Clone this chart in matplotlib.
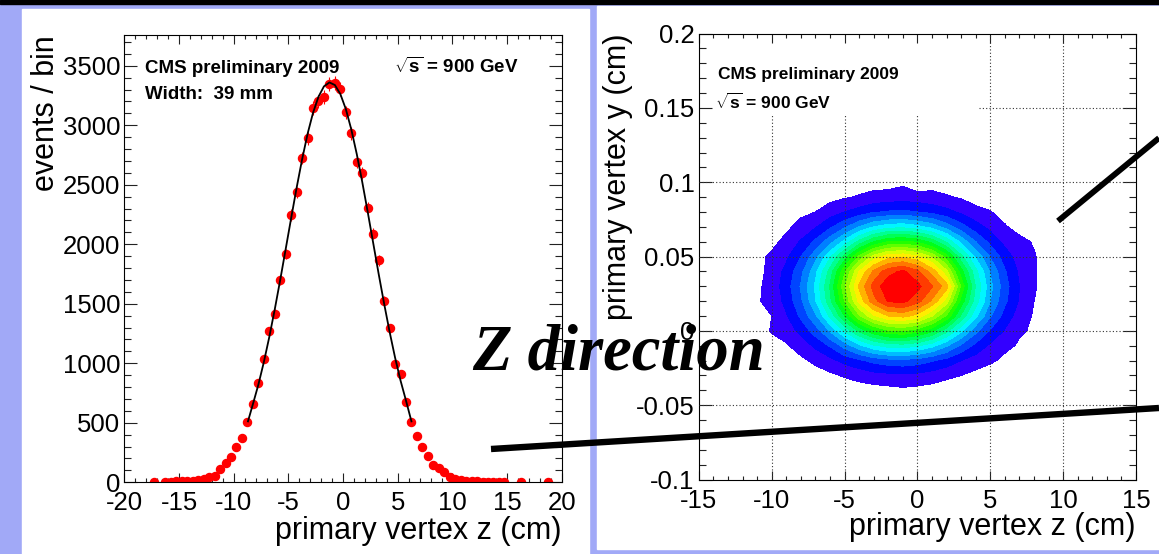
# Beam spot plots: primary vertex z distribution and y-z contour map

import colorsys
import matplotlib
matplotlib.use('Agg')
import matplotlib.pyplot as plt
from matplotlib.lines import Line2D
from matplotlib.patches import Rectangle
from matplotlib.ticker import MultipleLocator, FormatStrFormatter
import numpy as np

plt.rcParams['font.family'] = ['Liberation Sans', 'DejaVu Sans']
plt.rcParams['axes.unicode_minus'] = False
plt.rcParams['mathtext.fontset'] = 'custom'
plt.rcParams['mathtext.rm'] = 'Liberation Sans'
plt.rcParams['mathtext.bf'] = 'Liberation Sans:bold'

# ---- left panel: vertex z histogram (bin centres, entries) ----
hist_z = [-17.25, -16.25, -15.75, -15.25, -14.75, -14.25, -13.75, -13.25, -12.75, -12.25,
          -11.75, -11.25, -10.75, -10.25, -9.75, -9.25, -8.75, -8.25, -7.75, -7.25,
          -6.75, -6.25, -5.75, -5.25, -4.75, -4.25, -3.75, -3.25, -2.75, -2.25,
          -1.75, -1.25, -0.75, -0.25, 0.25, 0.75, 1.25, 1.75, 2.25, 2.75,
          3.25, 3.75, 4.25, 4.75, 5.25, 5.75, 6.25, 6.75, 7.25, 7.75,
          8.25, 8.75, 9.25, 9.75, 10.25, 10.75, 11.25, 11.75, 12.25, 12.75,
          13.25, 13.75, 14.25, 14.75, 16.25, 18.75]
hist_n = [2, 4, 5, 7, 8, 10, 13, 18, 28, 48,
          57, 109, 164, 209, 294, 373, 509, 658, 832, 1036,
          1271, 1415, 1700, 1919, 2246, 2436, 2727, 2892, 3144, 3200,
          3238, 3350, 3352, 3302, 3108, 2934, 2694, 2597, 2308, 2088,
          1864, 1525, 1293, 998, 910, 677, 504, 388, 298, 223,
          148, 118, 89, 47, 25, 17, 12, 10, 8, 6,
          5, 4, 3, 2, 1, 1]

# gaussian fit curve
fit_z = [-8.7, -8.25, -7.75, -7.25, -6.75, -6.25, -5.75, -5.25, -4.75, -4.25,
         -3.75, -3.25, -2.75, -2.25, -1.75, -1.25, -0.75, -0.25, 0.25, 0.75,
         1.25, 1.75, 2.25, 2.75, 3.25, 3.75, 4.25, 4.75, 5.25, 5.75, 6.25]
fit_n = [512, 656, 820, 1009, 1221, 1453, 1701, 1960, 2220, 2475,
         2713, 2927, 3105, 3240, 3327, 3360, 3338, 3262, 3136, 2965,
         2758, 2524, 2272, 2012, 1752, 1502, 1266, 1049, 856, 687, 512]

# ---- right panel: y vs z map, contour level read on a 1 cm x 0.01 cm grid ----
grid_z = [-12, -11, -10, -9, -8, -7, -6, -5, -4, -3, -2, -1, 0, 1, 2, 3, 4, 5, 6, 7, 8, 9, 10]
grid_y = [0.10, 0.09, 0.08, 0.07, 0.06, 0.05, 0.04, 0.03, 0.02, 0.01, 0.0,
          -0.01, -0.02, -0.03, -0.04, -0.05]
grid_v = [
    [0.0, 0.0, 0.0, 0.1, 0.1, 0.2, 0.3, 0.4, 0.5, 0.6, 0.6, 0.8, 0.3, 0.6, 0.5, 0.3, 0.2, 0.2, 0.1, 0.1, 0.0, 0.0, 0.0],
    [0.0, 0.1, 0.1, 0.2, 0.3, 0.5, 0.7, 0.9, 1.1, 1.3, 1.4, 1.5, 1.4, 1.3, 1.1, 0.9, 0.6, 0.4, 0.3, 0.2, 0.1, 0.0, 0.0],
    [0.1, 0.1, 0.2, 0.4, 0.8, 1.0, 1.5, 2.0, 2.4, 2.9, 3.1, 3.2, 3.0, 2.7, 2.3, 1.8, 1.3, 1.05, 0.6, 0.3, 0.2, 0.1, 0.0],
    [0.1, 0.2, 0.4, 0.8, 1.3, 1.9, 2.8, 3.8, 5.0, 6.0, 6.6, 6.7, 6.3, 5.6, 4.5, 3.4, 2.4, 1.7, 1.1, 0.6, 0.3, 0.2, 0.1],
    [0.2, 0.4, 0.7, 1.3, 2.1, 3.2, 4.6, 6.3, 8.3, 10.0, 11.0, 11.2, 10.8, 9.6, 7.8, 5.7, 4.0, 2.7, 1.7, 1.3, 0.9, 0.3, 0.1],
    [0.3, 0.7, 1.2, 1.8, 3.0, 4.6, 6.8, 9.4, 12.2, 14.4, 15.6, 15.8, 15.2, 13.8, 11.4, 8.3, 5.8, 3.9, 2.5, 1.5, 1.1, 0.4, 0.2],
    [0.3, 0.7, 1.3, 2.3, 3.7, 5.7, 8.4, 11.8, 15.0, 17.2, 18.6, 19.2, 18.2, 16.6, 14.2, 10.4, 7.3, 4.9, 3.1, 1.8, 1.1, 0.5, 0.3],
    [0.4, 0.8, 1.4, 2.5, 4.1, 6.2, 9.1, 12.8, 16.2, 18.4, 19.7, 19.8, 19.3, 18.1, 16.4, 11.8, 7.9, 5.3, 3.4, 2.0, 1.1, 0.6, 0.3],
    [0.4, 0.9, 1.3, 2.3, 3.8, 5.9, 8.7, 12.0, 15.3, 17.6, 19.1, 19.3, 18.4, 16.8, 14.5, 10.6, 7.5, 5.0, 3.2, 1.9, 1.0, 0.5, 0.3],
    [0.3, 0.6, 1.0, 1.9, 3.2, 4.8, 7.2, 10.0, 12.8, 14.8, 16.0, 16.3, 15.6, 14.0, 11.8, 8.8, 6.2, 4.1, 2.6, 1.5, 0.9, 0.4, 0.2],
    [0.2, 0.4, 1.1, 1.4, 2.3, 3.5, 5.1, 7.1, 9.2, 10.8, 11.8, 12.0, 11.4, 10.2, 8.3, 6.2, 4.3, 2.9, 1.9, 1.1, 0.9, 0.3, 0.2],
    [0.1, 0.3, 0.5, 0.9, 1.4, 2.2, 3.1, 4.4, 5.7, 6.8, 7.4, 7.5, 7.1, 6.3, 5.1, 3.8, 2.7, 1.8, 1.2, 0.9, 0.4, 0.2, 0.1],
    [0.1, 0.1, 0.3, 0.5, 0.8, 1.2, 1.7, 2.3, 2.8, 3.3, 3.6, 3.7, 3.5, 3.1, 2.6, 2.0, 1.5, 1.15, 0.8, 0.4, 0.2, 0.1, 0.1],
    [0.0, 0.1, 0.1, 0.2, 0.4, 0.6, 0.8, 1.1, 1.3, 1.6, 1.7, 1.8, 1.7, 1.5, 1.2, 1.0, 0.7, 0.5, 0.3, 0.2, 0.1, 0.1, 0.0],
    [0.0, 0.0, 0.1, 0.1, 0.2, 0.2, 0.3, 0.4, 0.6, 0.6, 0.7, 0.8, 0.7, 0.6, 0.5, 0.4, 0.3, 0.2, 0.1, 0.1, 0.0, 0.0, 0.0],
    [0.0, 0.0, 0.0, 0.0, 0.0, 0.0, 0.1, 0.1, 0.1, 0.1, 0.1, 0.1, 0.1, 0.1, 0.1, 0.1, 0.0, 0.0, 0.0, 0.0, 0.0, 0.0, 0.0],
]

W, H = 1159, 554


def fx(x):
    return x / W


def fy(y):
    return 1 - y / H


fig = plt.figure(figsize=(W / 100, H / 100), dpi=100, facecolor='#a1a9f7')

# slide background: black top bar and two white panels
fig.add_artist(Rectangle((0, fy(4)), 1, 4 / H, transform=fig.transFigure,
                         color='black', zorder=-10))
fig.add_artist(Rectangle((fx(22), 0), 567 / W, (554 - 9) / H, transform=fig.transFigure,
                         color='white', zorder=-10))
fig.add_artist(Rectangle((fx(597), fy(549)), 562 / W, (549 - 6) / H, transform=fig.transFigure,
                         color='white', zorder=-10))

axL = fig.add_axes([fx(124.4), fy(482.3), (561.8 - 124.4) / W, (482.3 - 35.3) / H])
axR = fig.add_axes([fx(698.9), fy(479.5), (1136 - 698.9) / W, (479.5 - 33.6) / H])

# left: histogram with fit
axL.errorbar(hist_z, hist_n, yerr=np.sqrt(hist_n), xerr=0.25, fmt='o', color='red',
             ms=5.8, elinewidth=0.8, capsize=0, zorder=2)
axL.plot(fit_z, fit_n, color='black', lw=1.3, zorder=3)
axL.set_xlim(-20, 20)
axL.set_ylim(0, 3756)
axL.xaxis.set_major_locator(MultipleLocator(5))
axL.xaxis.set_minor_locator(MultipleLocator(1))
axL.yaxis.set_major_locator(MultipleLocator(500))
axL.yaxis.set_minor_locator(MultipleLocator(100))
axL.xaxis.set_major_formatter(FormatStrFormatter('%g'))

# right: contour map
band_colors = [colorsys.hls_to_rgb((266 - 14 * k) / 360.0, 0.5, 1.0) for k in range(1, 20)]
axR.contourf(grid_z, grid_y, grid_v, levels=np.arange(1, 21), colors=band_colors, zorder=1)
axR.set_xlim(-15, 15)
axR.set_ylim(-0.1, 0.2)
axR.xaxis.set_major_locator(MultipleLocator(5))
axR.xaxis.set_minor_locator(MultipleLocator(1))
axR.yaxis.set_major_locator(MultipleLocator(0.05))
axR.yaxis.set_minor_locator(MultipleLocator(0.01))
axR.xaxis.set_major_formatter(FormatStrFormatter('%g'))
axR.yaxis.set_major_formatter(FormatStrFormatter('%g'))

# dotted grid, hidden behind the label box in the upper left
grid_style = dict(ls=(0, (1, 2)), color='#333333', lw=0.8, zorder=3)
for z in [-10, -5, 0]:
    axR.plot([z, z], [-0.1, 0.145], **grid_style)
for z in [5, 10]:
    axR.plot([z, z], [-0.1, 0.2], **grid_style)
for y in [-0.05, 0, 0.05, 0.1]:
    axR.plot([-15, 15], [y, y], **grid_style)
axR.plot([4.2, 15], [0.15, 0.15], **grid_style)

for ax in (axL, axR):
    ax.tick_params(which='both', direction='in', top=True, right=True, width=0.8,
                   labelsize=18.5, color='#222222')
    ax.tick_params(axis='x', which='major', length=6.5, pad=6.5)
    ax.tick_params(axis='x', which='minor', length=3.2)
    ax.tick_params(axis='y', which='major', length=9.4, pad=3)
    ax.tick_params(axis='y', which='minor', length=4.7)
    for s in ax.spines.values():
        s.set_linewidth(0.8)

axL.set_xlabel('primary vertex z (cm)', fontsize=22, ha='right', va='baseline')
axL.xaxis.set_label_coords(1.0, (482.3 - 539) / 447.0)
axL.set_ylabel('events / bin', fontsize=22, ha='right', va='baseline')
axL.yaxis.set_label_coords((54 - 124.4) / 437.4, 1.0)

axR.set_xlabel('primary vertex z (cm)', fontsize=22, ha='right', va='baseline')
axR.xaxis.set_label_coords(1.0, (479.5 - 535.3) / 445.9)
axR.set_ylabel('primary vertex y (cm)', fontsize=22, ha='right', va='baseline')
axR.yaxis.set_label_coords((626 - 698.9) / 437.1, 1.0)

# labels inside the plots
fig.text(fx(145), fy(72.7), 'CMS preliminary 2009', fontsize=13.5, fontweight='bold', va='baseline')
fig.text(fx(145), fy(99.3), 'Width:  39 mm', fontsize=13.5, fontweight='bold', va='baseline')
fig.text(fx(394), fy(72.7), r'$\sqrt{\mathbf{s}}$ = 900 GeV', fontsize=13.5, fontweight='bold', va='baseline')
fig.text(fx(718), fy(79.5), 'CMS preliminary 2009', fontsize=12.5, fontweight='bold', va='baseline')
fig.text(fx(715), fy(108.8), r'$\sqrt{\mathbf{s}}$ = 900 GeV', fontsize=12.5, fontweight='bold', va='baseline')

# slide annotation
fig.text(fx(472), fy(369), 'Z direction', fontsize=46.5, fontweight='bold', fontstyle='italic',
         family=['Liberation Serif', 'DejaVu Serif'], va='baseline', zorder=5)
fig.add_artist(Line2D([fx(491), fx(1159)], [fy(449), fy(408)], transform=fig.transFigure,
                      color='black', lw=4.6, solid_capstyle='butt', zorder=5))
fig.add_artist(Line2D([fx(1058), fx(1159)], [fy(221), fy(138)], transform=fig.transFigure,
                      color='black', lw=4.2, solid_capstyle='butt', zorder=5))

fig.savefig('out.png', dpi=100, facecolor=fig.get_facecolor())
